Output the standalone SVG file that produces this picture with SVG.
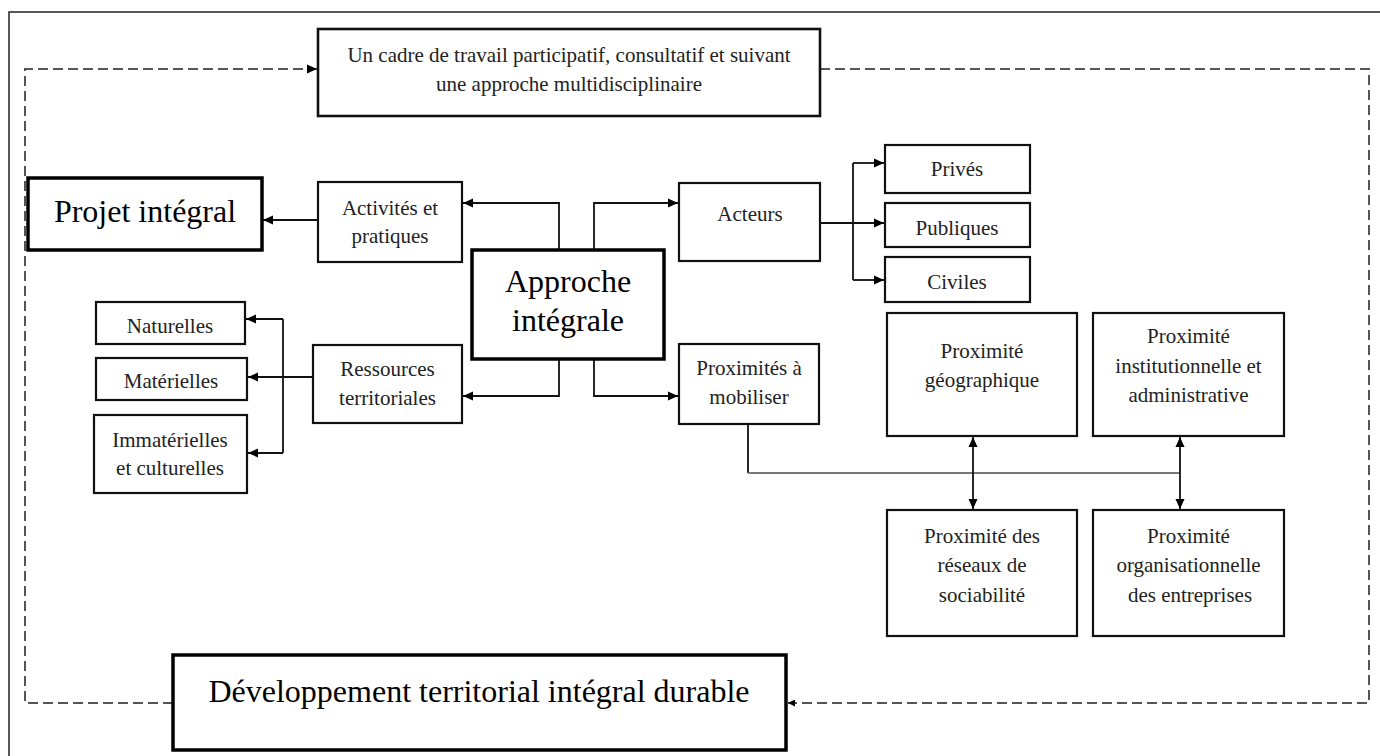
<svg xmlns="http://www.w3.org/2000/svg" width="1380" height="756" viewBox="0 0 1380 756">
<style>
.box{fill:#fff;stroke:#111;stroke-width:2.2}
.thick{fill:#fff;stroke:#000;stroke-width:3.5}
.t{font-family:"Liberation Serif","Times New Roman",serif;font-size:21px;fill:#222;text-anchor:middle}
.big{font-family:"Liberation Serif","Times New Roman",serif;font-size:32px;fill:#000;text-anchor:middle}
.c{fill:none;stroke:#111;stroke-width:1.8}
.g{fill:none;stroke:#777;stroke-width:2}
.d{fill:none;stroke:#555;stroke-width:2;stroke-dasharray:10,5}
</style>
<defs>
<marker id="ah" markerUnits="userSpaceOnUse" markerWidth="10" markerHeight="10" refX="10" refY="5" orient="auto-start-reverse">
<path d="M0,0.5 L10,5 L0,9.5 z" fill="#000"/>
</marker>
<marker id="ahs" markerUnits="userSpaceOnUse" markerWidth="7" markerHeight="7" refX="7" refY="3.5" orient="auto">
<path d="M0,0 L7,3.5 L0,7 z" fill="#000"/>
</marker>
</defs>
<rect width="1380" height="756" fill="#fff"/>
<rect x="9" y="12" width="1400" height="800" fill="none" stroke="#222" stroke-width="1.5"/>

<g id="connectors">
<path class="d" d="M173,703 H25 V69 H317" marker-end="url(#ah)"/>
<path class="d" d="M820,69 H1369 V703 H788" marker-end="url(#ahs)"/>
<path class="c" d="M318,220 H263" marker-end="url(#ah)"/>
<path class="c" d="M559,250 V203 H463" marker-end="url(#ah)"/>
<path class="c" d="M594,250 V203 H678" marker-end="url(#ah)"/>
<path class="c" d="M559,359 V396 H463" marker-end="url(#ah)"/>
<path class="c" d="M594,359 V396 H678" marker-end="url(#ah)"/>
<path class="c" d="M820,223 H884" marker-end="url(#ah)"/>
<path class="c" d="M853,163 V280"/>
<path class="c" d="M853,163 H884" marker-end="url(#ah)"/>
<path class="c" d="M853,280 H884" marker-end="url(#ah)"/>
<path class="c" d="M283,319 V453"/>
<path class="c" d="M283,319 H246" marker-end="url(#ah)"/>
<path class="c" d="M313,377 H248" marker-end="url(#ah)"/>
<path class="c" d="M283,453 H248" marker-end="url(#ah)"/>
<path class="c" d="M748,424 V473"/>
<path class="g" d="M748,473 H1180"/>
<path class="c" d="M973,437 V509" marker-start="url(#ah)" marker-end="url(#ah)"/>
<path class="c" d="M1180,437 V509" marker-start="url(#ah)" marker-end="url(#ah)"/>
</g>

<g id="cadre">
<rect class="box" x="318" y="29" width="502" height="87" style="stroke-width:2.6"/>
<text class="t" x="569" y="62">Un cadre de travail participatif, consultatif et suivant</text>
<text class="t" x="569" y="91">une approche multidisciplinaire</text>
</g>
<g id="projet">
<rect class="thick" x="28" y="178" width="234" height="72"/>
<text class="big" x="145" y="222">Projet intégral</text>
</g>
<g id="activites">
<rect class="box" x="318" y="182" width="144" height="80"/>
<text class="t" x="390" y="215">Activités et</text>
<text class="t" x="390" y="243">pratiques</text>
</g>
<g id="approche">
<rect class="thick" x="472" y="250" width="192" height="109"/>
<text class="big" x="568" y="292">Approche</text>
<text class="big" x="568" y="331">intégrale</text>
</g>
<g id="acteurs">
<rect class="box" x="679" y="183" width="141" height="78"/>
<text class="t" x="750" y="221">Acteurs</text>
</g>
<g id="prives">
<rect class="box" x="885" y="145" width="145" height="48"/>
<text class="t" x="957" y="176">Privés</text>
</g>
<g id="publiques">
<rect class="box" x="885" y="203" width="145" height="44"/>
<text class="t" x="957" y="235">Publiques</text>
</g>
<g id="civiles">
<rect class="box" x="885" y="257" width="145" height="45"/>
<text class="t" x="957" y="289">Civiles</text>
</g>
<g id="ressources">
<rect class="box" x="313" y="345" width="149" height="78"/>
<text class="t" x="387.5" y="376">Ressources</text>
<text class="t" x="387.5" y="405">territoriales</text>
</g>
<g id="naturelles">
<rect class="box" x="96" y="302" width="149" height="42"/>
<text class="t" x="170" y="333">Naturelles</text>
</g>
<g id="materielles">
<rect class="box" x="96" y="358" width="151" height="42"/>
<text class="t" x="171" y="388">Matérielles</text>
</g>
<g id="immaterielles">
<rect class="box" x="94" y="415" width="153" height="78"/>
<text class="t" x="170" y="447">Immatérielles</text>
<text class="t" x="170" y="475">et culturelles</text>
</g>
<g id="proximites">
<rect class="box" x="679" y="344" width="140" height="80"/>
<text class="t" x="749" y="375">Proximités à</text>
<text class="t" x="749" y="404">mobiliser</text>
</g>
<g id="geo">
<rect class="box" x="887" y="313" width="190" height="123"/>
<text class="t" x="982" y="358">Proximité</text>
<text class="t" x="982" y="387">géographique</text>
</g>
<g id="institutionnelle">
<rect class="box" x="1093" y="313" width="191" height="123"/>
<text class="t" x="1188.5" y="343">Proximité</text>
<text class="t" x="1188.5" y="373">institutionnelle et</text>
<text class="t" x="1188.5" y="402">administrative</text>
</g>
<g id="reseaux">
<rect class="box" x="887" y="510" width="190" height="126"/>
<text class="t" x="982" y="543">Proximité des</text>
<text class="t" x="982" y="572">réseaux de</text>
<text class="t" x="982" y="602">sociabilité</text>
</g>
<g id="organisationnelle">
<rect class="box" x="1093" y="510" width="191" height="126"/>
<text class="t" x="1188.5" y="543">Proximité</text>
<text class="t" x="1188.5" y="572">organisationnelle</text>
<text class="t" x="1190" y="602">des entreprises</text>
</g>
<g id="developpement">
<rect class="thick" x="173" y="655" width="613" height="95"/>
<text class="big" x="479" y="702">Développement territorial intégral durable</text>
</g>
</svg>
